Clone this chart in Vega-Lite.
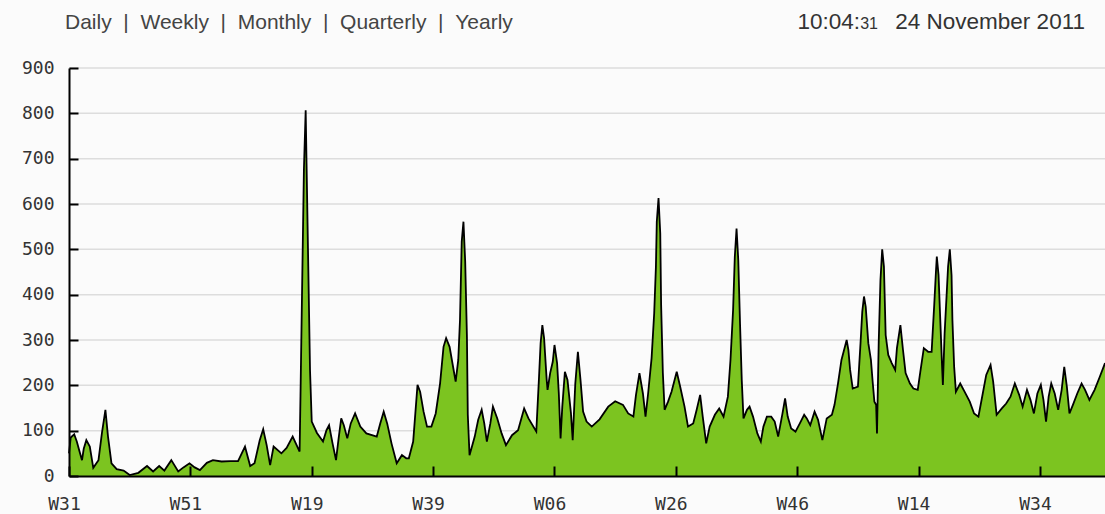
{
  "$schema": "https://vega.github.io/schema/vega-lite/v6.json",
  "width": 1036,
  "height": 408,
  "autosize": {"type": "none"},
  "padding": {"left": 69, "top": 68, "right": 0, "bottom": 38},
  "background": "#fbfbfb",
  "view": {"stroke": null},
  "title": {
    "text": "Daily\u00a0\u00a0|\u00a0\u00a0Weekly\u00a0\u00a0|\u00a0\u00a0Monthly\u00a0\u00a0|\u00a0\u00a0Quarterly\u00a0\u00a0|\u00a0\u00a0Yearly",
    "anchor": "start",
    "frame": "group",
    "dx": -4,
    "offset": -22,
    "font": "Liberation Sans",
    "fontSize": 21,
    "fontWeight": "normal",
    "color": "#444444"
  },
  "layer": [
    {
      "data": {"values": [{"v": 100}, {"v": 200}, {"v": 300}, {"v": 400}, {"v": 500}, {"v": 600}, {"v": 700}, {"v": 800}, {"v": 900}]},
      "mark": {"type": "rule", "color": "#dddddd", "strokeWidth": 1.5},
      "encoding": {
        "y": {"field": "v", "type": "quantitative"}
      }
    },
    {
      "data": {"values": [
        {"day":0,"visits":50},{"day":2,"visits":85},{"day":6,"visits":92},{"day":9,"visits":76},{"day":12,"visits":55},{"day":15,"visits":35},{"day":17,"visits":60},{"day":20,"visits":79},{"day":24,"visits":65},{"day":28,"visits":18},{"day":34,"visits":35},{"day":38,"visits":95},{"day":42,"visits":146},{"day":45,"visits":87},{"day":49,"visits":28},{"day":55,"visits":15},{"day":63,"visits":12},{"day":70,"visits":2},{"day":80,"visits":7},{"day":90,"visits":22},{"day":97,"visits":10},{"day":104,"visits":22},{"day":110,"visits":12},{"day":118,"visits":35},{"day":126,"visits":10},{"day":132,"visits":19},{"day":139,"visits":28},{"day":145,"visits":19},{"day":151,"visits":13},{"day":159,"visits":29},{"day":166,"visits":35},{"day":176,"visits":32},{"day":186,"visits":33},{"day":195,"visits":33},{"day":203,"visits":65},{"day":209,"visits":22},{"day":214,"visits":28},{"day":220,"visits":79},{"day":224,"visits":103},{"day":228,"visits":68},{"day":232,"visits":24},{"day":236,"visits":65},{"day":245,"visits":50},{"day":251,"visits":62},{"day":258,"visits":87},{"day":266,"visits":54},{"day":267,"visits":175},{"day":269,"visits":429},{"day":271,"visits":679},{"day":273,"visits":807},{"day":274,"visits":690},{"day":276,"visits":462},{"day":278,"visits":234},{"day":280,"visits":120},{"day":286,"visits":95},{"day":293,"visits":76},{"day":297,"visits":101},{"day":300,"visits":112},{"day":304,"visits":72},{"day":308,"visits":35},{"day":311,"visits":83},{"day":314,"visits":127},{"day":317,"visits":112},{"day":321,"visits":83},{"day":325,"visits":116},{"day":330,"visits":138},{"day":336,"visits":109},{"day":343,"visits":94},{"day":355,"visits":87},{"day":359,"visits":116},{"day":363,"visits":142},{"day":367,"visits":116},{"day":372,"visits":72},{"day":378,"visits":28},{"day":384,"visits":46},{"day":389,"visits":39},{"day":392,"visits":39},{"day":397,"visits":76},{"day":402,"visits":201},{"day":405,"visits":186},{"day":409,"visits":142},{"day":413,"visits":109},{"day":418,"visits":109},{"day":423,"visits":138},{"day":428,"visits":204},{"day":432,"visits":285},{"day":435,"visits":304},{"day":439,"visits":285},{"day":443,"visits":241},{"day":446,"visits":208},{"day":449,"visits":256},{"day":451,"visits":344},{"day":453,"visits":517},{"day":455,"visits":561},{"day":457,"visits":473},{"day":459,"visits":307},{"day":460,"visits":135},{"day":462,"visits":46},{"day":468,"visits":87},{"day":472,"visits":124},{"day":476,"visits":146},{"day":479,"visits":116},{"day":482,"visits":76},{"day":486,"visits":116},{"day":489,"visits":153},{"day":494,"visits":127},{"day":499,"visits":94},{"day":504,"visits":68},{"day":511,"visits":90},{"day":518,"visits":101},{"day":525,"visits":149},{"day":530,"visits":127},{"day":539,"visits":98},{"day":542,"visits":212},{"day":544,"visits":293},{"day":546,"visits":333},{"day":548,"visits":304},{"day":551,"visits":212},{"day":552,"visits":190},{"day":555,"visits":227},{"day":558,"visits":252},{"day":560,"visits":289},{"day":563,"visits":249},{"day":565,"visits":182},{"day":567,"visits":83},{"day":569,"visits":153},{"day":572,"visits":230},{"day":575,"visits":212},{"day":577,"visits":175},{"day":579,"visits":138},{"day":581,"visits":79},{"day":584,"visits":204},{"day":587,"visits":274},{"day":590,"visits":212},{"day":593,"visits":142},{"day":597,"visits":120},{"day":603,"visits":109},{"day":612,"visits":125},{"day":622,"visits":153},{"day":630,"visits":165},{"day":639,"visits":157},{"day":645,"visits":138},{"day":651,"visits":131},{"day":654,"visits":179},{"day":658,"visits":227},{"day":662,"visits":182},{"day":665,"visits":131},{"day":668,"visits":182},{"day":672,"visits":260},{"day":675,"visits":359},{"day":677,"visits":462},{"day":678,"visits":561},{"day":680,"visits":613},{"day":682,"visits":535},{"day":683,"visits":377},{"day":685,"visits":227},{"day":687,"visits":146},{"day":691,"visits":164},{"day":695,"visits":186},{"day":701,"visits":230},{"day":705,"visits":197},{"day":710,"visits":153},{"day":714,"visits":109},{"day":720,"visits":116},{"day":724,"visits":146},{"day":728,"visits":179},{"day":731,"visits":131},{"day":735,"visits":72},{"day":739,"visits":109},{"day":745,"visits":135},{"day":750,"visits":149},{"day":755,"visits":131},{"day":760,"visits":175},{"day":763,"visits":256},{"day":766,"visits":366},{"day":768,"visits":484},{"day":770,"visits":546},{"day":772,"visits":476},{"day":774,"visits":337},{"day":776,"visits":212},{"day":778,"visits":127},{"day":782,"visits":146},{"day":785,"visits":153},{"day":789,"visits":131},{"day":794,"visits":94},{"day":798,"visits":76},{"day":801,"visits":109},{"day":805,"visits":131},{"day":810,"visits":131},{"day":814,"visits":120},{"day":818,"visits":87},{"day":823,"visits":138},{"day":826,"visits":171},{"day":829,"visits":131},{"day":833,"visits":105},{"day":838,"visits":98},{"day":843,"visits":116},{"day":848,"visits":135},{"day":851,"visits":127},{"day":855,"visits":112},{"day":860,"visits":142},{"day":864,"visits":124},{"day":869,"visits":79},{"day":874,"visits":127},{"day":880,"visits":135},{"day":883,"visits":157},{"day":887,"visits":204},{"day":891,"visits":256},{"day":895,"visits":285},{"day":897,"visits":300},{"day":899,"visits":278},{"day":901,"visits":234},{"day":904,"visits":193},{"day":910,"visits":197},{"day":913,"visits":293},{"day":915,"visits":362},{"day":917,"visits":396},{"day":919,"visits":373},{"day":922,"visits":293},{"day":925,"visits":256},{"day":927,"visits":208},{"day":929,"visits":164},{"day":931,"visits":157},{"day":932,"visits":94},{"day":934,"visits":296},{"day":936,"visits":432},{"day":938,"visits":500},{"day":940,"visits":462},{"day":942,"visits":311},{"day":945,"visits":267},{"day":949,"visits":249},{"day":953,"visits":234},{"day":955,"visits":282},{"day":959,"visits":333},{"day":962,"visits":278},{"day":965,"visits":227},{"day":970,"visits":204},{"day":974,"visits":193},{"day":979,"visits":190},{"day":982,"visits":230},{"day":986,"visits":282},{"day":991,"visits":274},{"day":995,"visits":274},{"day":998,"visits":377},{"day":1000,"visits":451},{"day":1001,"visits":484},{"day":1003,"visits":443},{"day":1005,"visits":344},{"day":1007,"visits":245},{"day":1008,"visits":201},{"day":1010,"visits":315},{"day":1012,"visits":388},{"day":1014,"visits":462},{"day":1016,"visits":500},{"day":1018,"visits":443},{"day":1019,"visits":344},{"day":1021,"visits":241},{"day":1023,"visits":186},{"day":1028,"visits":204},{"day":1033,"visits":186},{"day":1039,"visits":164},{"day":1044,"visits":138},{"day":1049,"visits":131},{"day":1054,"visits":182},{"day":1058,"visits":223},{"day":1063,"visits":245},{"day":1066,"visits":208},{"day":1070,"visits":135},{"day":1076,"visits":149},{"day":1081,"visits":160},{"day":1086,"visits":175},{"day":1091,"visits":204},{"day":1096,"visits":179},{"day":1100,"visits":153},{"day":1105,"visits":190},{"day":1109,"visits":168},{"day":1113,"visits":138},{"day":1117,"visits":182},{"day":1121,"visits":201},{"day":1124,"visits":168},{"day":1127,"visits":120},{"day":1130,"visits":175},{"day":1133,"visits":204},{"day":1137,"visits":182},{"day":1141,"visits":146},{"day":1145,"visits":190},{"day":1148,"visits":241},{"day":1151,"visits":197},{"day":1154,"visits":138},{"day":1158,"visits":157},{"day":1163,"visits":182},{"day":1168,"visits":204},{"day":1172,"visits":190},{"day":1177,"visits":168},{"day":1183,"visits":190},{"day":1189,"visits":219},{"day":1195,"visits":249}
      ]},
      "mark": {"type": "area", "color": "#7cc420", "opacity": 1, "line": {"color": "#000000", "strokeWidth": 1.8}},
      "encoding": {
        "x": {
          "field": "day", "type": "quantitative",
          "scale": {"domain": [0, 1195], "nice": false, "zero": false},
          "axis": {
            "title": null,
            "zindex": 1,
            "values": [0, 140, 280, 420, 560, 700, 840, 980, 1120],
            "labelExpr": "['W31','W51','W19','W39','W06','W26','W46','W14','W34'][round(datum.value/140)]",
            "grid": false,
            "tickSize": -10,
            "tickWidth": 2,
            "tickColor": "#000000",
            "domainColor": "#000000",
            "domainWidth": 2,
            "labelFont": "DejaVu Sans Mono",
            "labelFontSize": 18,
            "labelColor": "#333333",
            "labelPadding": 29,
            "labelFlush": false,
            "labelOverlap": false,
            "labelBound": false,
            "labelOffset": -5
          }
        },
        "y": {
          "field": "visits", "type": "quantitative",
          "scale": {"domain": [0, 900], "nice": false},
          "axis": {
            "title": null,
            "zindex": 1,
            "values": [0, 50, 100, 150, 200, 250, 300, 350, 400, 450, 500, 550, 600, 650, 700, 750, 800, 850, 900],
            "labelExpr": "datum.value % 100 === 0 ? datum.label : ''",
            "grid": false,
            "tickSize": {"condition": {"test": "datum.value % 100 === 0", "value": -9}, "value": -5},
            "tickWidth": 2,
            "tickColor": "#000000",
            "domainColor": "#000000",
            "domainWidth": 2,
            "labelFont": "DejaVu Sans Mono",
            "labelFontSize": 18,
            "labelColor": "#333333",
            "labelPadding": 24,
            "labelOverlap": false,
            "labelBound": false
          }
        }
      }
    },
    {
      "data": {"values": [{"time": "10:04:", "sec": "31", "date": "24 November 2011"}]},
      "layer": [
        {
          "mark": {"type": "text", "align": "right", "baseline": "alphabetic", "font": "Liberation Sans", "fontSize": 22.5, "color": "#333333", "dx": -20, "dy": -39},
          "encoding": {
            "x": {"datum": 1195, "type": "quantitative"},
            "y": {"datum": 900, "type": "quantitative"},
            "text": {"field": "date"}
          }
        },
        {
          "mark": {"type": "text", "align": "right", "baseline": "alphabetic", "font": "Liberation Sans", "fontSize": 16, "color": "#333333", "dx": -227, "dy": -39},
          "encoding": {
            "x": {"datum": 1195, "type": "quantitative"},
            "y": {"datum": 900, "type": "quantitative"},
            "text": {"field": "sec"}
          }
        },
        {
          "mark": {"type": "text", "align": "right", "baseline": "alphabetic", "font": "Liberation Sans", "fontSize": 22.5, "color": "#333333", "dx": -245, "dy": -39},
          "encoding": {
            "x": {"datum": 1195, "type": "quantitative"},
            "y": {"datum": 900, "type": "quantitative"},
            "text": {"field": "time"}
          }
        }
      ]
    }
  ]
}
